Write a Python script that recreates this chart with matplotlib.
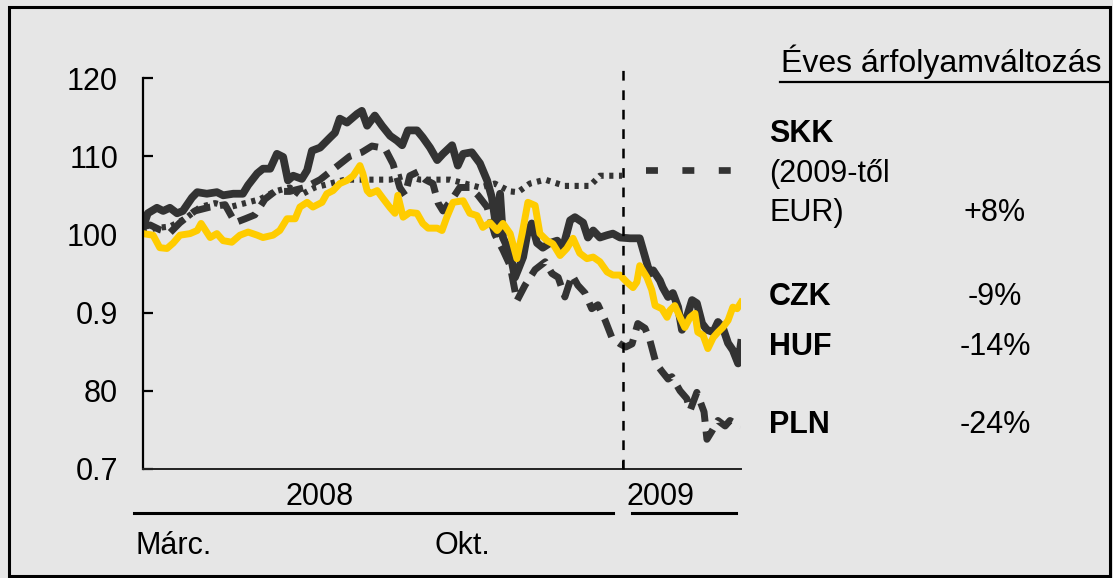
import matplotlib
matplotlib.use("Agg")
import matplotlib.pyplot as plt
from matplotlib.patches import Rectangle
from matplotlib.lines import Line2D

plt.rcParams['font.family'] = ['Liberation Sans', 'DejaVu Sans']
plt.rcParams['lines.scale_dashes'] = False

# x = months since 1 March 2008
huf_x = [0.00, 0.10, 0.29, 0.42, 0.56, 0.71, 0.83, 1.02, 1.13, 1.33, 1.54, 1.67, 1.88, 2.08, 2.19,
         2.38, 2.50, 2.65, 2.79, 2.92, 3.02, 3.13, 3.31, 3.42, 3.52, 3.69, 3.90, 4.00, 4.10, 4.25,
         4.46, 4.56, 4.67, 4.83, 4.98, 5.15, 5.29, 5.40, 5.52, 5.71, 5.83, 5.98, 6.13, 6.25, 6.44,
         6.56, 6.67, 6.85, 7.02, 7.17, 7.27, 7.38, 7.44, 7.50, 7.65, 7.75, 7.81, 7.92, 8.02, 8.10,
         8.21, 8.33, 8.48, 8.63, 8.75, 8.90, 9.00, 9.17, 9.27, 9.38, 9.52, 9.67, 9.79, 9.94, 10.15,
         10.35, 10.50, 10.56, 10.63, 10.77, 10.83, 10.94, 11.04, 11.15, 11.23, 11.33, 11.44, 11.54,
         11.65, 11.75, 11.88, 11.98, 12.08, 12.19, 12.29, 12.40, 12.46]
huf_y = [100.9, 102.7, 103.4, 103.0, 103.4, 102.7, 103.0, 104.7, 105.4, 105.2, 105.4, 105.0, 105.2,
         105.2, 106.3, 107.8, 108.4, 108.4, 110.3, 109.9, 106.9, 107.5, 107.1, 108.2, 110.7, 111.1,
         112.4, 113.0, 114.8, 114.3, 115.4, 115.8, 113.9, 115.2, 113.9, 112.6, 112.0, 111.4, 113.3,
         113.3, 112.4, 111.1, 109.5, 110.3, 111.4, 108.8, 110.3, 110.5, 109.1, 106.9, 104.7, 100.1,
         105.2, 99.6, 97.6, 94.5, 95.4, 97.1, 100.5, 101.4, 98.9, 98.3, 98.9, 99.2, 98.3, 101.8,
         102.2, 101.5, 99.6, 100.5, 99.6, 99.9, 100.1, 99.6, 99.5, 99.5, 96.3, 95.0, 95.4, 94.1,
         93.2, 92.0, 92.5, 90.7, 87.8, 89.4, 91.6, 91.2, 88.6, 87.8, 87.5, 88.8, 88.1, 86.1, 85.2,
         83.5, 86.1]

czk_x = [0.00, 0.21, 0.35, 0.50, 0.63, 0.77, 0.98, 1.13, 1.21, 1.40, 1.54, 1.67, 1.85, 2.02, 2.19,
         2.38, 2.50, 2.71, 2.85, 3.00, 3.17, 3.27, 3.42, 3.54, 3.73, 3.83, 3.96, 4.10, 4.25, 4.38,
         4.52, 4.58, 4.67, 4.73, 4.88, 5.00, 5.15, 5.25, 5.31, 5.42, 5.56, 5.71, 5.83, 5.94, 6.13,
         6.23, 6.33, 6.46, 6.67, 6.81, 6.96, 7.08, 7.23, 7.38, 7.50, 7.65, 7.79, 7.90, 8.02, 8.17,
         8.27, 8.42, 8.54, 8.69, 8.83, 8.96, 9.10, 9.25, 9.38, 9.52, 9.67, 9.79, 9.94, 10.08, 10.21,
         10.29, 10.35, 10.50, 10.60, 10.67, 10.81, 10.92, 10.98, 11.08, 11.19, 11.29, 11.40, 11.50,
         11.56, 11.67, 11.77, 11.88, 11.98, 12.08, 12.19, 12.29, 12.38, 12.46]
czk_y = [100.1, 99.9, 98.3, 98.2, 98.9, 99.9, 100.1, 100.5, 101.4, 99.6, 100.1, 99.2, 99.0, 99.9,
         100.3, 99.9, 99.6, 99.9, 100.5, 102.0, 102.0, 103.5, 104.1, 103.5, 104.1, 105.2, 105.6,
         106.5, 106.9, 107.5, 108.8, 107.8, 105.6, 105.2, 105.6, 104.6, 103.4, 102.7, 105.0, 102.2,
         102.8, 102.7, 101.4, 100.8, 100.8, 100.5, 102.2, 104.1, 104.3, 102.7, 102.4, 100.9, 101.5,
         100.5, 101.4, 100.1, 96.9, 100.1, 104.1, 103.7, 100.1, 99.2, 98.8, 97.3, 98.2, 99.5, 97.6,
         96.9, 97.1, 96.5, 95.2, 94.8, 94.8, 93.9, 93.2, 93.9, 96.0, 94.5, 92.9, 90.9, 90.5, 89.4,
         90.3, 90.9, 89.4, 88.1, 89.4, 89.9, 87.5, 87.1, 85.4, 86.8, 87.5, 88.1, 89.0, 90.7, 90.5,
         91.3]

pln_x = [0.00, 0.15, 0.35, 0.56, 0.77, 1.08, 1.40, 1.71, 1.92, 2.13, 2.33, 2.54, 2.75, 3.06, 3.38,
         3.69, 4.00, 4.31, 4.56, 4.77, 5.04, 5.21, 5.35, 5.46, 5.56, 5.73, 5.88, 6.04, 6.15, 6.25,
         6.44, 6.60, 6.81, 6.98, 7.17, 7.33, 7.50, 7.65, 7.79, 7.96, 8.17, 8.38, 8.52, 8.65, 8.79,
         8.94, 9.06, 9.21, 9.35, 9.48, 9.63, 9.77, 9.94, 10.06, 10.19, 10.31, 10.46, 10.56, 10.69,
         10.81, 10.94, 11.02, 11.19, 11.33, 11.40, 11.54, 11.69, 11.75, 11.85, 11.98, 12.13, 12.23,
         12.35, 12.46]
pln_y = [101.0, 101.2, 100.6, 100.2, 101.5, 103.0, 103.5, 103.8, 101.5, 102.0, 102.5, 104.5, 105.5,
         105.5, 106.0, 107.0, 108.5, 110.0, 110.5, 111.3, 111.0, 109.0, 106.0, 105.0, 107.5, 108.0,
         107.0, 106.5, 104.0, 103.0, 104.5, 106.0, 106.0, 105.0, 103.5, 100.0, 98.0, 96.0, 91.5,
         93.5, 95.5, 96.5, 95.0, 94.5, 92.0, 94.8, 93.5, 92.5, 90.5, 91.0, 89.0, 86.8, 86.0, 85.6,
         86.0, 88.6, 88.0, 86.5, 83.5, 82.5, 81.5, 81.8, 80.0, 79.0, 77.5, 79.8, 77.3, 73.8, 74.8,
         76.2, 75.5, 76.2, 75.8, 75.5]

skk_x = [0.00, 0.25, 0.56, 0.88, 1.19, 1.50, 1.81, 2.13, 2.44, 2.75, 3.06, 3.27, 3.58, 3.90, 4.21,
         4.52, 4.83, 5.15, 5.46, 5.77, 6.08, 6.40, 6.71, 7.02, 7.33, 7.65, 7.81, 8.06, 8.38, 8.79,
         9.31, 9.52, 9.98]
skk_y = [100.3, 100.8, 101.0, 102.0, 103.5, 104.0, 103.5, 104.0, 104.5, 105.5, 106.0, 105.0, 106.0,
         106.5, 107.0, 107.0, 107.0, 107.0, 107.5, 107.0, 107.0, 107.0, 106.5, 106.0, 106.5, 105.5,
         105.4, 106.5, 107.0, 106.2, 106.2, 107.5, 107.5]
eur_x = [10.0, 12.46]
eur_y = [108.2, 108.2]

yticks = [70, 80, 90, 100, 110, 120]
ytick_labels = ["0.7", "80", "0.9", "100", "110", "120"]
year_boundary = 10.0

labels = ["SKK", "CZK", "HUF", "PLN"]
changes = ["+8%", "-9%", "-14%", "-24%"]

W, H = 1113, 578
BG = '#e6e6e6'
DARK = '#333333'
YEL = '#ffcc00'
FS = 22

fig = plt.figure(figsize=(W / 100, H / 100), dpi=100, facecolor=BG)

def fx(px):
    return px / W

def fy(py):
    return 1 - py / H

ax = fig.add_axes([fx(143), fy(469), fx(741) - fx(143), fy(78) - fy(469)])
ax.set_facecolor('none')
ax.set_xlim(0, 12.46)
ax.set_ylim(70, 120)

ax.plot(skk_x, skk_y, color=DARK, lw=4.4, linestyle=(0, (3, 4)), dash_capstyle='butt')
ax.plot(eur_x, eur_y, color=DARK, lw=4.8, linestyle=(10, (8.6, 17.6)), dash_capstyle='butt')
ax.plot(pln_x, pln_y, color=DARK, lw=5.0, linestyle=(0, (14, 7)), dash_capstyle='butt')
ax.plot(huf_x, huf_y, color=DARK, lw=5.6, solid_joinstyle='round')
ax.plot(czk_x, czk_y, color=YEL, lw=5.0, solid_joinstyle='round')

ax.plot([year_boundary, year_boundary], [70, 122], color='black', lw=1.8,
        linestyle=(0, (7, 7)), clip_on=False, zorder=5)

for s in ['top', 'right']:
    ax.spines[s].set_visible(False)
ax.spines['left'].set_linewidth(1.6)
ax.spines['bottom'].set_linewidth(1.4)
ax.spines['bottom'].set_color('#222222')

ax.set_yticks(yticks)
ax.set_yticklabels(ytick_labels)
ax.tick_params(axis='y', direction='in', length=7, width=1.6, pad=18, labelsize=FS)
ax.set_xticks([year_boundary])
ax.set_xticklabels([])
ax.tick_params(axis='x', direction='in', length=6, width=1.4)

# bottom year/month labels
fig.text(fx(320), fy(497), "2008", fontsize=FS, ha='center', va='center')
fig.text(fx(660), fy(497), "2009", fontsize=FS, ha='center', va='center')
fig.add_artist(Line2D([fx(134), fx(613)], [fy(513), fy(513)], color='black', lw=2.2))
fig.add_artist(Line2D([fx(632), fx(736)], [fy(513), fy(513)], color='black', lw=2.2))
fig.text(fx(135), fy(546), "Márc.", fontsize=FS, ha='left', va='center')
fig.text(fx(435), fy(546), "Okt.", fontsize=FS, ha='left', va='center')

# right-hand legend
fig.text(fx(781), fy(62), "Éves árfolyamváltozás", fontsize=FS + 1, ha='left', va='center')
fig.add_artist(Line2D([fx(780), fx(1108)], [fy(82), fy(82)], color='black', lw=1.6))

label_y = [134, 297, 347, 425]
for lab, ch, yy in zip(labels, changes, label_y):
    fig.text(fx(769), fy(yy), lab, fontsize=FS, fontweight='bold', ha='left', va='center')
    vy = 213 if lab == "SKK" else yy
    fig.text(fx(995), fy(vy), ch, fontsize=FS, ha='center', va='center')
fig.text(fx(769), fy(174), "(2009-től", fontsize=FS, ha='left', va='center')
fig.text(fx(769), fy(213), "EUR)", fontsize=FS, ha='left', va='center')

# outer frame
fig.add_artist(Rectangle((fx(9), fy(576)), fx(1110) - fx(9), fy(7) - fy(576),
                         transform=fig.transFigure, fill=False, edgecolor='black', lw=2.2))

fig.savefig("out.png", dpi=100, facecolor=BG)
